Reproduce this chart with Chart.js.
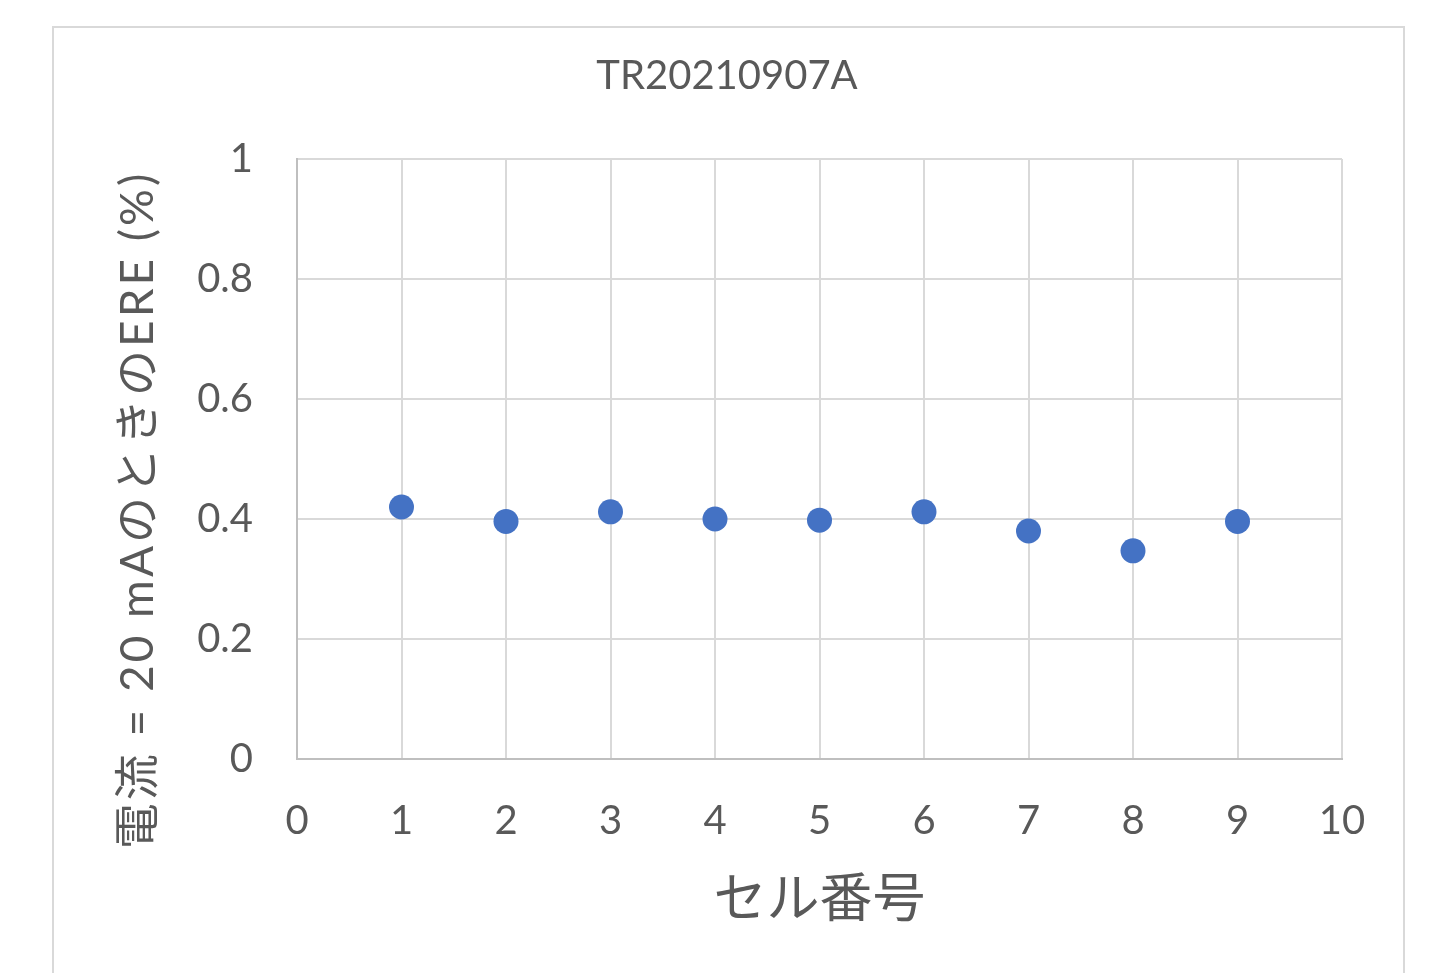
<!DOCTYPE html>
<html>
<head>
<meta charset="utf-8">
<script src="https://cdn.jsdelivr.net/npm/chart.js@4/dist/chart.umd.min.js"></script>
<style>
  html, body { margin: 0; padding: 0; background: #ffffff; overflow: hidden; }
  #frame {
    position: absolute; left: 52px; top: 26px; width: 1353px; height: 1000px;
    border: 2px solid #d9d9d9; box-sizing: border-box;
  }
  #c { position: absolute; left: 0; top: 0; }
</style>
</head>
<body>
<div id="frame"></div>
<canvas id="c" width="1440" height="973"></canvas>
<script>
// Cell numbers and ERE values measured at 20 mA
const cellNumbers = [1, 2, 3, 4, 5, 6, 7, 8, 9];
const ereValues = [0.420, 0.396, 0.412, 0.400, 0.398, 0.412, 0.380, 0.347, 0.396];

const chartTitle = 'TR20210907A';
const xAxisTitle = 'セル番号';
const yAxisTitle = '電流 = 20 mAのときのERE (%)';

const textColor = '#595959';
const fontStack = "Lato, 'Noto Sans CJK JP', sans-serif";

// Rotated y-axis caption drawn next to the tick labels
const yTitlePlugin = {
  id: 'yTitle',
  afterDraw(chart) {
    const ctx = chart.ctx;
    ctx.save();
    ctx.translate(138, 510);
    ctx.rotate(-Math.PI / 2);
    ctx.fillStyle = textColor;
    ctx.font = "46px " + fontStack;
    if ('letterSpacing' in ctx) ctx.letterSpacing = '3px';
    ctx.textAlign = 'center';
    ctx.textBaseline = 'middle';
    ctx.fillText(yAxisTitle, 0, 0);
    ctx.restore();
  }
};

new Chart(document.getElementById('c'), {
  type: 'scatter',
  data: {
    datasets: [{
      data: cellNumbers.map((x, i) => ({ x: x, y: ereValues[i] })),
      backgroundColor: '#4472C4',
      borderWidth: 0,
      pointRadius: 12.5,
      pointHoverRadius: 12.5
    }]
  },
  options: {
    responsive: false,
    animation: false,
    events: [],
    layout: { padding: { left: 112, right: 98, top: 0, bottom: 0 } },
    plugins: {
      legend: { display: false },
      tooltip: { enabled: false },
      title: {
        display: true,
        text: chartTitle,
        color: textColor,
        font: { family: fontStack, size: 40, weight: 'normal', lineHeight: 1.2 },
        padding: { top: 52.5, bottom: 58.5 }
      }
    },
    scales: {
      x: {
        type: 'linear',
        min: 0,
        max: 10,
        ticks: {
          stepSize: 1,
          color: textColor,
          padding: 38,
          font: { family: fontStack, size: 40 }
        },
        grid: { color: '#d9d9d9', lineWidth: 2, drawTicks: false },
        border: { color: '#bfbfbf', width: 2 },
        title: {
          display: true,
          text: xAxisTitle,
          color: textColor,
          font: { family: fontStack, size: 53, lineHeight: 1.2 },
          padding: { top: 0, bottom: 41 }
        },
        afterFit(scale) { scale.height = 214; }
      },
      y: {
        type: 'linear',
        min: 0,
        max: 1,
        ticks: {
          stepSize: 0.2,
          color: textColor,
          padding: 44,
          font: { family: fontStack, size: 40 },
          callback: (v) => String(Math.round(v * 10) / 10)
        },
        grid: { color: '#d9d9d9', lineWidth: 2, drawTicks: false },
        border: { color: '#bfbfbf', width: 2 },
        afterFit(scale) { scale.width = 185; }
      }
    }
  },
  plugins: [yTitlePlugin]
});
</script>
</body>
</html>
